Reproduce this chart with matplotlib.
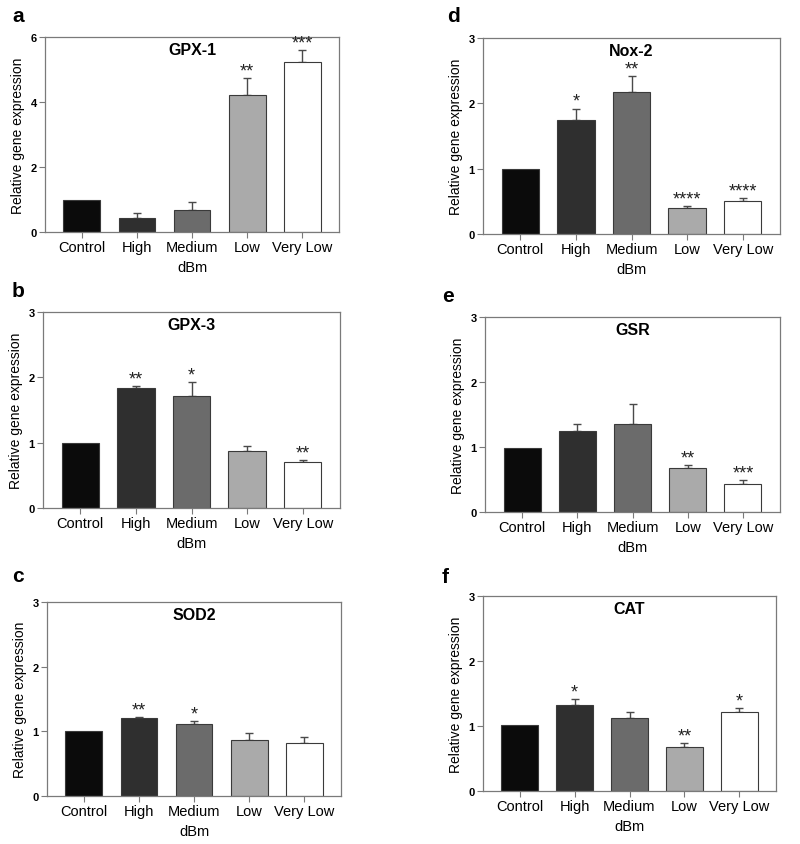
import matplotlib.pyplot as plt
import numpy as np

plt.rcParams['font.family'] = ['Liberation Sans', 'DejaVu Sans']

groups = ["Control", "High", "Medium", "Low", "Very Low"]
bar_colors = ["#0b0b0b", "#2f2f2f", "#6b6b6b", "#aaaaaa", "#ffffff"]

gpx1 = [1.0, 0.44, 0.68, 4.21, 5.22]
gpx1_err = [0.0, 0.16, 0.25, 0.54, 0.38]
gpx1_sig = ["", "", "", "**", "***"]

gpx3 = [1.0, 1.84, 1.71, 0.87, 0.70]
gpx3_err = [0.0, 0.03, 0.22, 0.08, 0.04]
gpx3_sig = ["", "**", "*", "", "**"]

sod2 = [1.0, 1.20, 1.12, 0.86, 0.82]
sod2_err = [0.0, 0.02, 0.04, 0.12, 0.09]
sod2_sig = ["", "**", "*", "", ""]

nox2 = [1.0, 1.75, 2.18, 0.40, 0.50]
nox2_err = [0.0, 0.17, 0.24, 0.03, 0.05]
nox2_sig = ["", "*", "**", "****", "****"]

gsr = [0.99, 1.24, 1.36, 0.67, 0.43]
gsr_err = [0.0, 0.11, 0.30, 0.05, 0.06]
gsr_sig = ["", "", "", "**", "***"]

cat = [1.01, 1.33, 1.13, 0.67, 1.22]
cat_err = [0.0, 0.09, 0.09, 0.07, 0.05]
cat_sig = ["", "*", "", "**", "*"]

W, H = 800, 845
fig = plt.figure(figsize=(W / 100, H / 100), dpi=100)

# (letter, title, values, errors, stars, ymax, ytick step, box px: left, right, top, bottom, letter px)
panels = [
    ("a", "GPX-1", gpx1, gpx1_err, gpx1_sig, 6, 2, (45, 339, 38, 233), (12, 22)),
    ("b", "GPX-3", gpx3, gpx3_err, gpx3_sig, 3, 1, (43, 340, 313, 509), (12, 297)),
    ("c", "SOD2", sod2, sod2_err, sod2_sig, 3, 1, (47, 341, 603, 797), (12, 582)),
    ("d", "Nox-2", nox2, nox2_err, nox2_sig, 3, 1, (483, 780, 39, 235), (447, 22)),
    ("e", "GSR", gsr, gsr_err, gsr_sig, 3, 1, (485, 780, 318, 513), (442, 302)),
    ("f", "CAT", cat, cat_err, cat_sig, 3, 1, (483, 776, 597, 792), (442, 583)),
]

spine_col = "#7a7a7a"
x = np.arange(len(groups))

for letter, title, vals, errs, sig, ymax, step, box, lpos in panels:
    l, r, t, b = box
    ax = fig.add_axes([l / W, 1 - b / H, (r - l) / W, (b - t) / H])
    ax.bar(x, vals, width=0.67, color=bar_colors, edgecolor="#3a3a3a",
           linewidth=0.8, zorder=2)
    has_err = np.array(errs) > 0
    ax.errorbar(x[has_err], np.array(vals)[has_err],
                yerr=[np.zeros(has_err.sum()), np.array(errs)[has_err]],
                fmt="none", ecolor="#4a4a4a", elinewidth=1.0, capsize=3,
                capthick=1.0, zorder=1)
    for xi, v, e, s in zip(x, vals, errs, sig):
        if s:
            ax.annotate(s, (xi, v + e), xytext=(0, -1), textcoords="offset points",
                        ha="center", va="bottom", fontsize=13, color="#222222")
    ax.set_xlim(-0.67, 4.67)
    ax.set_ylim(0, ymax)
    ticks = np.arange(0, ymax + 0.1, step)
    ax.set_yticks(ticks)
    ax.set_yticklabels([str(int(v)) for v in ticks], fontsize=8, fontweight="bold")
    ax.set_xticks(x)
    ax.set_xticklabels(groups, fontsize=10.5)
    ax.set_xlabel("dBm", fontsize=10.5, labelpad=4)
    ax.set_ylabel("Relative gene expression", fontsize=10, labelpad=4)
    for sp in ax.spines.values():
        sp.set_color(spine_col)
        sp.set_linewidth(0.9)
    ax.tick_params(axis="both", color=spine_col, length=4, width=0.8, pad=2)
    ax.text(0.5, 0.975, title, transform=ax.transAxes, ha="center", va="top",
            fontsize=11.5, fontweight="bold")
    fig.text(lpos[0] / W, 1 - lpos[1] / H, letter, fontsize=15,
             fontweight="bold", ha="left", va="baseline")

fig.savefig("out.png", dpi=100)
